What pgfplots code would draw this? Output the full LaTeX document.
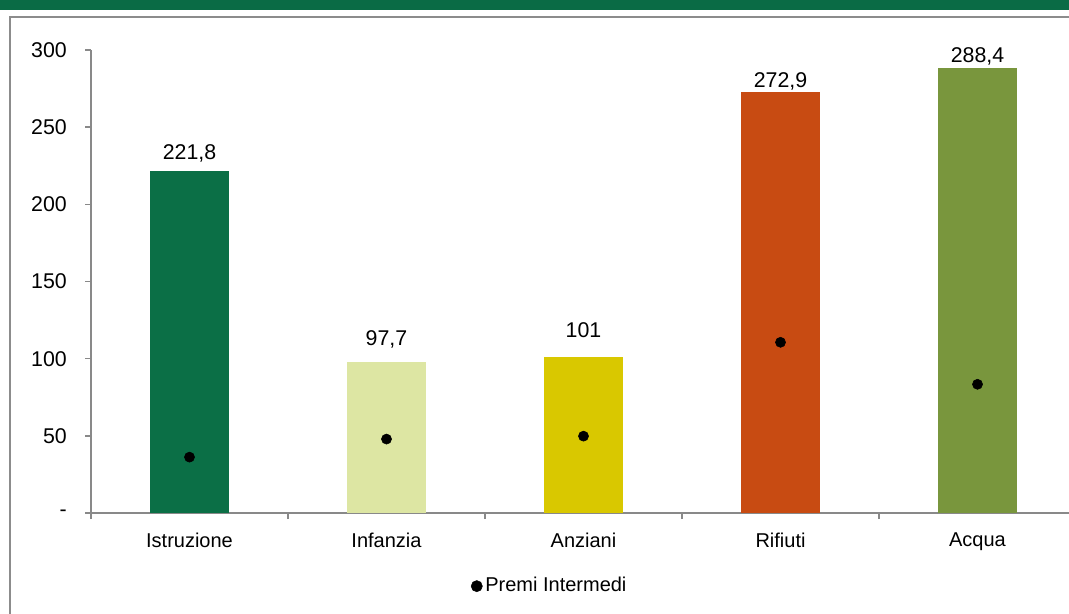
\documentclass[border=0pt]{standalone}
\usepackage{pgfplots}
\pgfplotsset{compat=1.18}
\usepackage{fontspec}
\setmainfont{Liberation Sans}
\definecolor{band}{HTML}{0A6B45}
\definecolor{frameg}{HTML}{8C8C8C}
\definecolor{axg}{HTML}{898989}
\definecolor{cIst}{HTML}{0B6F46}
\definecolor{cInf}{HTML}{DDE6A3}
\definecolor{cAnz}{HTML}{D9C800}
\definecolor{cRif}{HTML}{C84B12}
\definecolor{cAcq}{HTML}{79963D}
\begin{document}
\begin{tikzpicture}
\fontsize{15}{18}\selectfont
\clip (0,0) rectangle (801.75pt,459.75pt);
\fill[white] (0,0) rectangle (801.75pt,459.75pt);
\fill[band] (0,452.25pt) rectangle (801.75pt,459.75pt);
\draw[frameg, line width=1.5pt] (7.5pt,-20pt) -- (7.5pt,447pt) -- (830pt,447pt);
\begin{axis}[
  at={(68.25pt,75pt)}, anchor=south west,
  scale only axis, width=738.75pt, height=347.25pt,
  xmin=-0.5, xmax=4.5, ymin=0, ymax=300,
  axis x line=bottom, axis y line=left,
  axis line style={-, axg, line width=1pt},
  tick align=outside,
  tick style={axg, line width=1pt},
  xtick={0,1,2,3,4},
  xticklabels={Istruzione,Infanzia,Anziani,Rifiuti,Acqua},
  major x tick style={draw=none},
  minor xtick={-0.5,0.5,1.5,2.5,3.5,4.5},
  minor tick length=4.5pt,
  major tick length=4.5pt,
  ytick={0,50,100,150,200,250,300},
  yticklabels={-,50,100,150,200,250,300},
  xticklabel style={font=\fontsize{15}{18}\selectfont, black, yshift=-5pt},
  yticklabel style={font=\fontsize{16}{19}\selectfont, black, xshift=-8.5pt},
  /pgf/number format/assume math mode=true,
  /pgf/number format/.cd, use comma, fixed, precision=1, 1000 sep={}, /tikz/.cd,
  legend style={at={(0.466,-0.158)}, anchor=center, draw=none, fill=none,
    font=\fontsize{15}{18}\selectfont, legend cell align=left},
  bars/.style={ybar, bar width=59.25pt, bar shift=0pt, draw=none, forget plot,
    nodes near coords,
    every node near coord/.append style={font=\fontsize{16}{19}\selectfont, black, yshift=#1}},
]
\addplot[bars=1.5pt, fill=cIst] coordinates {(0,221.8)};
\addplot[bars=5.25pt, fill=cInf] coordinates {(1,97.7)};
\addplot[bars=9pt, fill=cAnz] coordinates {(2,101)};
\addplot[bars=-3.75pt, fill=cRif] coordinates {(3,272.9)};
\addplot[bars=-3pt, fill=cAcq] coordinates {(4,288.4)};
\addplot[only marks, mark=*, mark size=3.8pt, black,
  legend image code/.code={\fill[black] (0.1cm,0) circle[radius=4.2pt];}]
  coordinates {(0,36.2) (1,47.9) (2,49.8) (3,110.6) (4,83.4)};
\addlegendentry{Premi Intermedi}
\end{axis}
\end{tikzpicture}
\end{document}
